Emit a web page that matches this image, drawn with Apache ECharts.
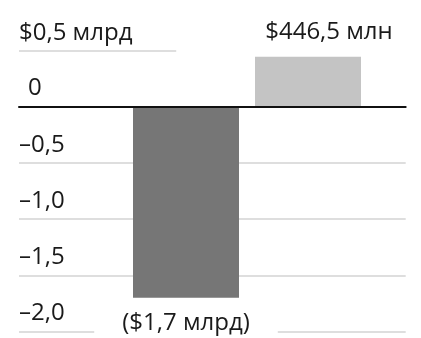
<!DOCTYPE html>
<html>
<head>
<meta charset="utf-8">
<script src="https://cdn.jsdelivr.net/npm/echarts@6/dist/echarts.min.js"></script>
<style>
  html, body { margin: 0; padding: 0; background: #fff; }
  #chart { width: 421px; height: 338px; }
</style>
</head>
<body>
<div id="chart"></div>
<script>
// Net result, billions of dollars
const categories = ['убыток', 'прибыль'];
const values = [-1.7, 0.4465];
const valueLabels = ['($1,7 млрд)', '$446,5 млн'];
const barColors = ['#767676', '#c4c4c4'];

// Y axis ticks and their captions
const tickValues = [-2, -1.5, -1, -0.5, 0, 0.5];
const tickLabels = ['–2,0', '–1,5', '–1,0', '–0,5', '0', '$0,5 млрд'];
const tickStyles = ['plain', 'plain', 'plain', 'plain', 'zero', 'plain'];

const FONT = '"Open Sans", sans-serif';
const SIZE = 24;
const TEXT = '#1a1a1a';

const chart = echarts.init(document.getElementById('chart'), null, { renderer: 'canvas' });

const gridTop = 50.7, gridBottom = 6.5;

function tickStyle(pad) {
  return { fontFamily: FONT, fontSize: SIZE, color: TEXT, padding: pad };
}

chart.setOption({
  animation: false,
  backgroundColor: '#fff',
  grid: [
    // full-width grid carrying the gridlines, tick captions and the zero line
    { left: 19, right: 15.3, top: gridTop, bottom: gridBottom },
    // narrower grid that places the two bars
    { left: 125, right: 52, top: gridTop, bottom: gridBottom }
  ],
  xAxis: [
    {
      gridIndex: 0, type: 'value', min: 0, max: 1, z: 5,
      axisLine: { show: true, onZero: true, lineStyle: { color: '#111', width: 2 } },
      axisTick: { show: false }, axisLabel: { show: false }, splitLine: { show: false }
    },
    {
      gridIndex: 1, type: 'category', data: categories,
      axisLine: { show: false }, axisTick: { show: false }, axisLabel: { show: false }
    }
  ],
  yAxis: [
    {
      gridIndex: 0, type: 'value', min: -2, max: 0.5, interval: 0.5,
      axisLine: { show: false }, axisTick: { show: false },
      splitLine: { show: true, lineStyle: { color: '#dedede', width: 2 } },
      axisLabel: {
        inside: true, margin: 0, verticalAlign: 'bottom',
        fontFamily: FONT, fontSize: SIZE, color: TEXT,
        formatter: function (v) {
          const i = tickValues.findIndex(t => Math.abs(t - v) < 1e-9);
          return i < 0 ? '' : '{' + tickStyles[i] + '|' + tickLabels[i] + '}';
        },
        rich: {
          plain: tickStyle([0, 0, 6, 0]),
          zero:  tickStyle([0, 0, 7, 9])
        }
      }
    },
    {
      gridIndex: 1, type: 'value', min: -2, max: 0.5, interval: 0.5,
      axisLine: { show: false }, axisTick: { show: false },
      axisLabel: { show: false }, splitLine: { show: false }
    }
  ],
  series: [
    {
      type: 'bar', xAxisIndex: 1, yAxisIndex: 1, barWidth: 106,
      data: values.map((v, i) => ({
        value: v,
        itemStyle: { color: barColors[i] },
        label: v < 0
          ? { show: true, position: 'bottom', distance: 1, formatter: valueLabels[i],
              fontFamily: FONT, fontSize: SIZE, color: TEXT,
              backgroundColor: '#fff', padding: [12.2, 28, 3, 28] }
          : { show: true, position: 'top', distance: 3, formatter: valueLabels[i],
              fontFamily: FONT, fontSize: SIZE, color: TEXT,
              backgroundColor: '#fff', padding: [2, 47, 9.4, 89] }
      }))
    }
  ]
});
</script>
</body>
</html>
